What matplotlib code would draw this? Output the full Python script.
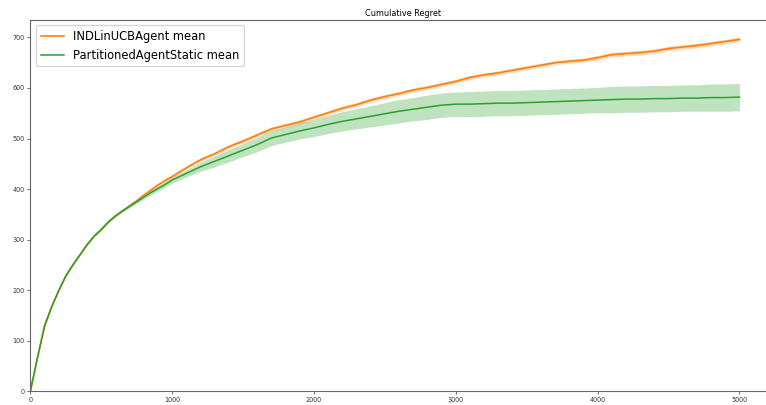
import matplotlib
matplotlib.use("Agg")
import matplotlib.pyplot as plt
import numpy as np

# time steps (finer spacing in the steep early part)
steps = [0, 50, 100, 150, 200, 250, 300, 350, 400, 450, 500, 550, 600, 650, 700,
         750, 800, 850, 900, 950,
         1000, 1100, 1200, 1300, 1400, 1500, 1600, 1700, 1800, 1900,
         2000, 2100, 2200, 2300, 2400, 2500, 2600, 2700, 2800, 2900,
         3000, 3100, 3200, 3300, 3400, 3500, 3600, 3700, 3800, 3900,
         4000, 4100, 4200, 4300, 4400, 4500, 4600, 4700, 4800, 4900, 5000]

# INDLinUCBAgent: mean cumulative regret and band half-width
lin_mean = [0, 66, 129, 167, 199, 228, 250, 270, 290, 307, 320, 335, 347, 357, 367,
            377, 388, 398, 408, 417,
            425, 442, 458, 470, 484, 495, 507, 519, 526, 533,
            542, 551, 560, 567, 576, 583, 589, 596, 601, 607,
            613, 621, 626, 630, 635, 640, 645, 650, 653, 655,
            660, 666, 668, 670, 673, 678, 681, 684, 688, 692, 696]
lin_err = [0, 1, 1, 1, 1, 1, 1, 1, 1, 1, 1.5, 1.5, 1.5, 1.5, 2,
           2, 2.5, 2.5, 2.5, 3,
           3, 3, 3.5, 3.5, 3.5, 4, 4, 4, 4, 4,
           4, 4, 4, 4, 4, 4, 4, 4, 4, 4,
           4, 4, 4, 4, 4, 4, 4, 4, 4, 4,
           4.5, 4.5, 4.5, 4.5, 4.5, 4.5, 4.5, 4.5, 4.5, 4.5, 4.5]

# PartitionedAgentStatic: mean cumulative regret and band half-width
part_mean = [0, 66, 129, 167, 199, 228, 250, 270, 290, 307, 320, 335, 347, 357, 366,
             375, 384, 393, 401, 409,
             418, 431, 444, 455, 466, 477, 488, 501, 508, 515,
             521, 528, 534, 539, 544, 549, 554, 558, 562, 566,
             568, 568, 569, 570, 570, 571, 572, 573, 574, 575,
             576, 577, 578, 578, 579, 579, 580, 580, 581, 581, 582]
part_err = [0, 1, 1, 1, 1, 1, 1.5, 1.5, 2, 2, 2, 2.5, 2.5, 3, 3,
            3.5, 4, 4.5, 5, 5.5,
            6, 7, 9, 11, 12, 13, 14, 15, 15, 16,
            17, 18, 19, 20, 21, 22, 23, 23, 24, 24,
            24, 25, 25, 25, 25, 25, 25, 25, 25, 25,
            25, 26, 26, 26, 26, 26, 26, 26, 27, 27, 27]

steps = np.array(steps)
lin_mean, lin_err = np.array(lin_mean), np.array(lin_err)
part_mean, part_err = np.array(part_mean), np.array(part_err)

fig = plt.figure(figsize=(7.66, 4.05), dpi=100)
ax = fig.add_axes([0.0396, 0.0338, 0.972, 0.9175])

ax.plot(steps, lin_mean, color='tab:orange', linewidth=1.2, label='INDLinUCBAgent mean')
ax.fill_between(steps, lin_mean - lin_err, lin_mean + lin_err, color='tab:orange', alpha=0.3, linewidth=0)
ax.plot(steps, part_mean, color='tab:green', linewidth=1.1, label='PartitionedAgentStatic mean')
ax.fill_between(steps, part_mean - part_err, part_mean + part_err, color='tab:green', alpha=0.3, linewidth=0)

ax.set_xlim(0, 5250)
ax.set_ylim(0, 735)
ax.set_xticks([0, 1000, 2000, 3000, 4000, 5000])
ax.set_yticks(range(0, 701, 100))
ax.tick_params(labelsize=4.7, length=2.2, width=0.5, pad=2, colors='#333333')
for s in ax.spines.values():
    s.set_linewidth(0.8)
    s.set_color('#666666')

ax.set_title('Cumulative Regret', fontsize=5.9, pad=3)
ax.legend(loc='upper left', fontsize=8.3, borderaxespad=0.5)

fig.savefig('out.png', dpi=100)
